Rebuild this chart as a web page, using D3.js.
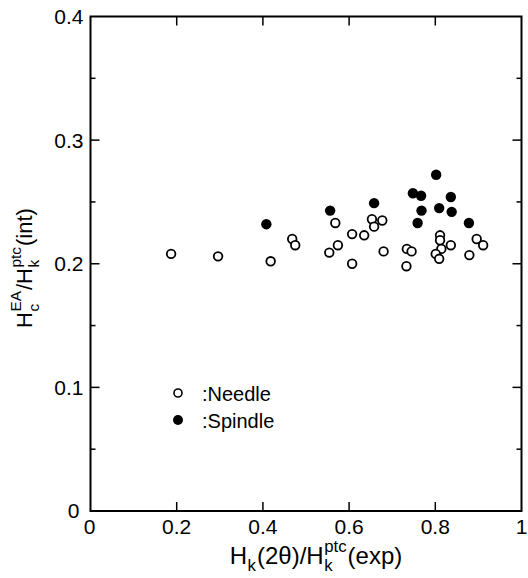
<!DOCTYPE html>
<html><head><meta charset="utf-8">
<script src="https://cdn.jsdelivr.net/npm/d3@7/dist/d3.min.js"></script>
<style>body{margin:0;background:#fff}svg{display:block}</style>
</head><body>
<script>
// Data
const needleX = [0.187,0.296,0.418,0.468,0.475,0.568,0.554,0.574,0.607,0.635,0.607,0.653,0.677,0.658,0.680,0.734,0.745,0.733,0.811,0.811,0.814,0.801,0.809,0.836,0.896,0.911,0.879];
const needleY = [0.208,0.206,0.202,0.220,0.215,0.233,0.209,0.215,0.224,0.223,0.200,0.236,0.235,0.230,0.210,0.212,0.210,0.198,0.223,0.219,0.212,0.208,0.204,0.215,0.220,0.215,0.207];
const spindleX = [0.408,0.556,0.658,0.748,0.767,0.768,0.759,0.802,0.809,0.836,0.838,0.878];
const spindleY = [0.232,0.243,0.249,0.257,0.255,0.243,0.233,0.272,0.245,0.254,0.242,0.233];
const xTicks = [0,0.2,0.4,0.6,0.8,1];
const xTickLabels = ["0","0.2","0.4","0.6","0.8","1"];
const yTicks = [0,0.1,0.2,0.3,0.4];
const yTickLabels = ["0","0.1","0.2","0.3","0.4"];
const yMinor = [0.05,0.15,0.25,0.35];
const legendLabels = [":Needle", ":Spindle"];

const W = 528, H = 578;
const svg = d3.select("body").append("svg").attr("width", W).attr("height", H);
const x = d3.scaleLinear().domain([0,1]).range([90.5,521.5]);
const y = d3.scaleLinear().domain([0,0.4]).range([511,16.5]);
const FONT = "Liberation Sans, Arial, Helvetica, sans-serif";
const fs = 21;

// frame
svg.append("rect").attr("x", x(0)).attr("y", y(0.4)).attr("width", x(1)-x(0)).attr("height", y(0)-y(0.4))
  .attr("fill","none").attr("stroke","#000").attr("stroke-width",2);

const tk = svg.append("g").attr("stroke","#000").attr("stroke-width",1.5);
xTicks.slice(1,-1).forEach(v => {
  tk.append("line").attr("x1",x(v)).attr("x2",x(v)).attr("y1",y(0)).attr("y2",y(0)-9);
  tk.append("line").attr("x1",x(v)).attr("x2",x(v)).attr("y1",y(0.4)).attr("y2",y(0.4)+9);
});
yTicks.slice(1,-1).forEach(v => {
  tk.append("line").attr("x1",x(0)).attr("x2",x(0)+9).attr("y1",y(v)).attr("y2",y(v));
  tk.append("line").attr("x1",x(1)).attr("x2",x(1)-9).attr("y1",y(v)).attr("y2",y(v));
});
yMinor.forEach(v => {
  tk.append("line").attr("x1",x(0)).attr("x2",x(0)+5).attr("y1",y(v)).attr("y2",y(v));
  tk.append("line").attr("x1",x(1)).attr("x2",x(1)-5).attr("y1",y(v)).attr("y2",y(v));
});

// tick labels
const lab = svg.append("g").attr("font-family",FONT).attr("font-size",fs).attr("fill","#000");
xTicks.forEach((v,i) => {
  lab.append("text").attr("x", x(v) + (i===0?-1:0)).attr("y", y(0)+23).attr("text-anchor","middle")
    .text(xTickLabels[i]);
});
yTicks.forEach((v,i) => {
  lab.append("text").attr("x", x(0) - (i===0?11:7)).attr("y", y(v) + (i===0?-1:0)).attr("text-anchor","end")
    .attr("dy","0.36em").text(yTickLabels[i]);
});

// rich text helper: parts: {t}, {sub}, {sup}, {sub, sup}
function rich(g, parts, size) {
  let cx = 0;
  const small = size*0.7;
  parts.forEach(p => {
    if (p.t !== undefined) {
      const t = g.append("text").attr("x",cx).attr("y",0).attr("font-size",size).text(p.t);
      cx += t.node().getComputedTextLength();
    } else {
      let w = 0;
      if (p.sub !== undefined) {
        const t = g.append("text").attr("x",cx+0.5).attr("y",size*0.3).attr("font-size",small).text(p.sub);
        w = Math.max(w, t.node().getComputedTextLength());
      }
      if (p.sup !== undefined) {
        const t = g.append("text").attr("x",cx+0.5).attr("y",-size*0.5).attr("font-size",small).text(p.sup);
        w = Math.max(w, t.node().getComputedTextLength());
      }
      cx += w + 1.5;
    }
  });
  return cx;
}

// x title
const xt = svg.append("g").attr("font-family",FONT).attr("fill","#000");
const xw = rich(xt, [{t:"H"},{sub:"k"},{t:"(2θ)/H"},{sub:"k",sup:"ptc"},{t:"(exp)"}], 24);
xt.attr("transform", `translate(${316 - xw/2},564)`);

// y title
const yt = svg.append("g").attr("font-family",FONT).attr("fill","#000");
const yw = rich(yt, [{t:"H"},{sub:"c",sup:"EA"},{t:"/H"},{sub:"k",sup:"ptc"},{t:"(int)"}], 22);
yt.attr("transform", `translate(32,${268 + yw/2}) rotate(-90)`);

// points
const pts = svg.append("g");
pts.selectAll("circle.n").data(needleX.map((v,i)=>[v,needleY[i]])).enter().append("circle")
  .attr("cx",d=>x(d[0])).attr("cy",d=>y(d[1])).attr("r",4.3)
  .attr("fill","#fff").attr("stroke","#000").attr("stroke-width",1.8);
pts.selectAll("circle.s").data(spindleX.map((v,i)=>[v,spindleY[i]])).enter().append("circle")
  .attr("cx",d=>x(d[0])).attr("cy",d=>y(d[1])).attr("r",5.2).attr("fill","#000");

// legend
const lg = svg.append("g").attr("font-family",FONT).attr("font-size",20).attr("fill","#000");
lg.append("circle").attr("cx",178).attr("cy",393).attr("r",4).attr("fill","#fff").attr("stroke","#000").attr("stroke-width",1.6);
lg.append("circle").attr("cx",178).attr("cy",420).attr("r",5).attr("fill","#000");
lg.append("text").attr("x",202).attr("y",401).text(legendLabels[0]);
lg.append("text").attr("x",202).attr("y",428).text(legendLabels[1]);
</script>
</body></html>
